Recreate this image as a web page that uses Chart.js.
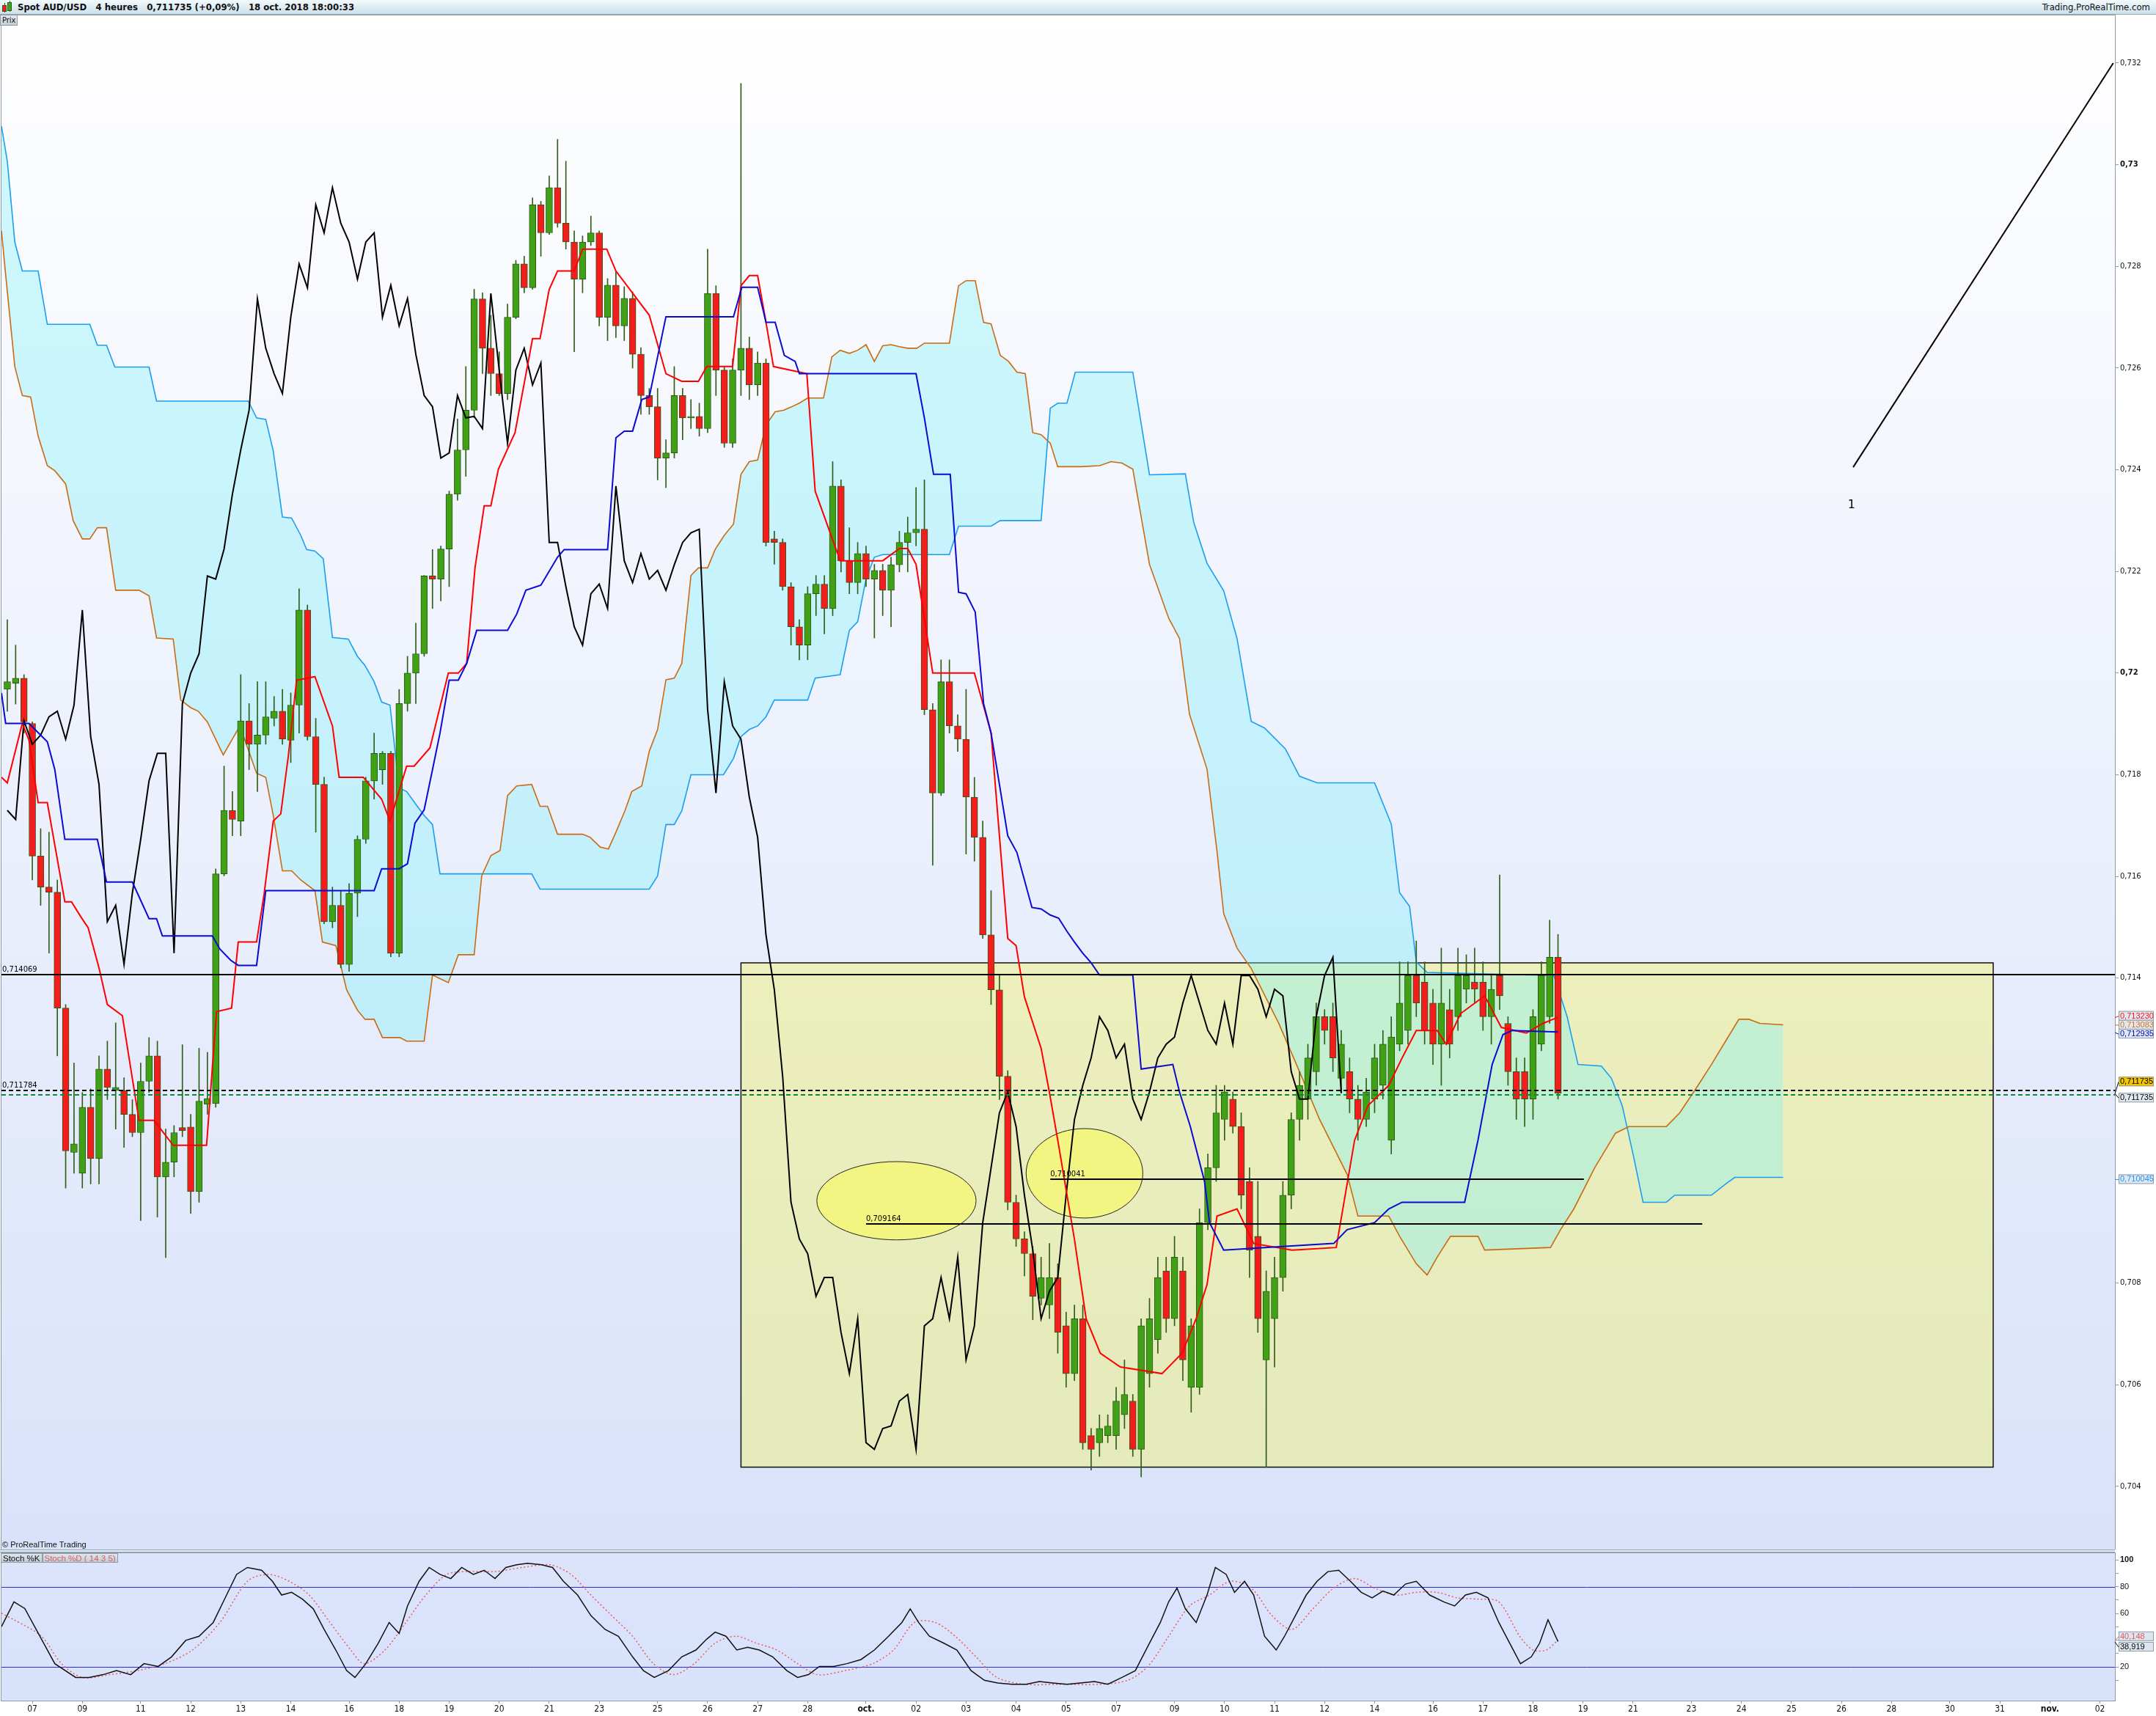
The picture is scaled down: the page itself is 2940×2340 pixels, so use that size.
<!DOCTYPE html>
<html>
<head>
<meta charset="utf-8">
<title>Spot AUD/USD 4 heures</title>
<script src="https://cdn.jsdelivr.net/npm/chart.js@4.4.1/dist/chart.umd.min.js"></script>
<style>
  html, body { margin: 0; padding: 0; background: #fff; }
  body { position: relative; width: 2940px; height: 2340px; overflow: hidden; font-family: 'Liberation Sans', Arial, sans-serif; }
  .abs { position: absolute; }
  #head { left: 0; top: 0; width: 2940px; height: 19px; background: linear-gradient(#f2fafd, #cde0ea); border-bottom: 1px solid #95a6b5; z-index: 2; }
  #head .title { left: 24px; top: 2px; font: bold 13px 'Liberation Sans Narrow', 'DejaVu Sans Condensed', sans-serif; color: #111; white-space: pre; }
  #head .brand { right: 8px; top: 2px; font: 13px 'Liberation Sans Narrow', 'DejaVu Sans Condensed', sans-serif; color: #111; white-space: nowrap; }
  .wick { width: 1px; background: #2c5a14; }
  .body { width: 4px; border: 1px solid #2c5a14; }
  #prix { left: 0; top: 20px; padding: 0 2px; height: 13px; line-height: 13px; font: 11px 'Liberation Sans Narrow', 'DejaVu Sans Condensed', sans-serif; color: #111;
          background: linear-gradient(#e3e9ee, #c4ced7); border: 1px solid #8d9cab; z-index: 2; }
  #main { left: 0; top: 20px; }
  #sep { left: 0; top: 2113px; width: 2884px; height: 2px; border-top: 1px solid #92a3b3; border-bottom: 1px solid #92a3b3; background: #e6ecf8; }
  #stoch { left: 0; top: 2117px; }
  #copy { left: 3px; top: 2100px; font: 11px 'Liberation Sans', Arial, sans-serif; color: #111; z-index: 2; }
  #stochLbl { left: 1px; top: 2118px; height: 13px; line-height: 13px; font: 11.5px 'Liberation Sans', Arial, sans-serif; z-index: 2; display: flex; }
  #stochLbl span { padding: 0 2px; background: linear-gradient(#dfe7ec, #c0ccd5); border: 1px solid #8d9cab; }
</style>
</head>
<body>
<div id="head" class="abs">
  <div class="abs wick" style="left:6px;top:4px;height:13px"></div>
  <div class="abs body" style="left:3px;top:7px;height:7px;background:#f02020"></div>
  <div class="abs wick" style="left:13px;top:1px;height:15px"></div>
  <div class="abs body" style="left:10px;top:3px;height:10px;background:#3fa51a"></div>
  <div class="abs title">Spot AUD/USD   4 heures   0,711735 (+0,09%)   18 oct. 2018 18:00:33</div>
  <div class="abs brand">Trading.ProRealTime.com</div>
</div>
<div id="prix" class="abs">Prix</div>
<canvas id="main" class="abs" width="2940" height="2093"></canvas>
<div id="copy" class="abs">© ProRealTime Trading</div>
<div id="sep" class="abs"></div>
<canvas id="stoch" class="abs" width="2940" height="223"></canvas>
<div id="stochLbl" class="abs"><span style="color:#111">Stoch %K</span><span style="color:#e05a5a">Stoch %D ( 14 3 5)</span></div>

<script>
// 4-hour candles, AUD/USD, 6 Sep - 18 Oct 2018
const opens = [0.71968,0.71980,0.71990,0.71901,0.71640,0.71579,0.71569,0.71341,0.71057,0.71016,
  0.71146,0.71045,0.71221,0.71179,0.71179,0.71132,0.71096,0.71197,0.71247,0.71009,
  0.71038,0.71106,0.71107,0.70980,0.71152,0.71153,0.71605,0.71730,0.71709,0.71906,
  0.71860,0.71878,0.71911,0.71925,0.71868,0.71937,0.72124,0.71875,0.71781,0.71511,
  0.71543,0.71427,0.71567,0.71673,0.71788,0.71810,0.71842,0.71449,0.71940,0.72000,
  0.72038,0.72191,0.72185,0.72244,0.72352,0.72439,0.72517,0.72736,0.72639,0.72589,
  0.72550,0.72700,0.72805,0.72758,0.72921,0.72866,0.72955,0.72885,0.72848,0.72775,
  0.72848,0.72866,0.72700,0.72763,0.72683,0.72737,0.72627,0.72546,0.72524,0.72423,
  0.72433,0.72546,0.72502,0.72505,0.72481,0.72747,0.72596,0.72452,0.72596,0.72639,
  0.72567,0.72610,0.72264,0.72257,0.72170,0.72091,0.72055,0.72156,0.72175,0.72127,
  0.72368,0.72221,0.72178,0.72235,0.72185,0.72202,0.72163,0.72213,0.72257,0.72276,
  0.72283,0.71928,0.71764,0.71983,0.71896,0.71870,0.71756,0.71677,0.71485,0.71377,
  0.71207,0.70959,0.70887,0.70858,0.70770,0.70757,0.70811,0.70716,0.70622,0.70730,
  0.70500,0.70486,0.70500,0.70500,0.70541,0.70568,0.70473,0.70622,0.70689,0.70824,
  0.70730,0.70824,0.70595,0.70595,0.70919,0.71027,0.71122,0.71162,0.71108,0.71000,
  0.70892,0.70649,0.70730,0.70811,0.70973,0.71122,0.71162,0.71216,0.71324,0.71324,
  0.71203,0.71216,0.71162,0.71122,0.71162,0.71189,0.71081,0.71270,0.71297,0.71405,
  0.71392,0.71351,0.71270,0.71338,0.71324,0.71378,0.71392,0.71392,0.71324,0.71405,
  0.71311,0.71216,0.71216,0.71162,0.71270,0.71324,0.71441];
const highs = [0.72105,0.72055,0.71997,0.71904,0.71694,0.71687,0.71593,0.71348,0.71233,0.71175,
  0.71182,0.71247,0.71276,0.71312,0.71204,0.71161,0.71233,0.71283,0.71276,0.71103,
  0.71110,0.71269,0.71132,0.71262,0.71254,0.71615,0.71817,0.71767,0.71997,0.71940,
  0.71983,0.71983,0.71954,0.71968,0.71961,0.72166,0.72134,0.71911,0.71795,0.71579,
  0.71572,0.71586,0.71680,0.71795,0.71882,0.71846,0.71846,0.71968,0.72033,0.72098,
  0.72192,0.72243,0.72250,0.72358,0.72500,0.72603,0.72755,0.72748,0.72704,0.72632,
  0.72726,0.72812,0.72820,0.72935,0.72928,0.72978,0.73050,0.73007,0.72870,0.72860,
  0.72899,0.72870,0.72776,0.72790,0.72760,0.72750,0.72640,0.72560,0.72560,0.72459,
  0.72603,0.72560,0.72538,0.72531,0.72834,0.72762,0.72603,0.72618,0.73160,0.72661,
  0.72632,0.72618,0.72279,0.72264,0.72178,0.72105,0.72170,0.72192,0.72192,0.72416,
  0.72380,0.72286,0.72257,0.72250,0.72214,0.72214,0.72228,0.72279,0.72307,0.72365,
  0.72380,0.71940,0.72026,0.72026,0.71918,0.71968,0.71795,0.71709,0.71572,0.71406,
  0.71218,0.70973,0.70901,0.70872,0.70851,0.70878,0.70838,0.70743,0.70757,0.70757,
  0.70514,0.70541,0.70541,0.70595,0.70649,0.70581,0.70730,0.70770,0.70851,0.70851,
  0.70892,0.70851,0.70730,0.70946,0.71054,0.71189,0.71189,0.71176,0.71135,0.71027,
  0.71000,0.70824,0.70851,0.71000,0.71135,0.71216,0.71270,0.71351,0.71338,0.71351,
  0.71297,0.71243,0.71189,0.71203,0.71270,0.71297,0.71324,0.71432,0.71432,0.71473,
  0.71432,0.71378,0.71459,0.71378,0.71459,0.71446,0.71459,0.71432,0.71405,0.71603,
  0.71324,0.71243,0.71243,0.71338,0.71432,0.71514,0.71486];
const lows = [0.71925,0.71939,0.71882,0.71593,0.71543,0.71449,0.71247,0.70987,0.71016,0.70987,
  0.70995,0.70995,0.71161,0.71103,0.71067,0.71088,0.70923,0.71175,0.70930,0.70850,
  0.71009,0.71088,0.70937,0.70959,0.71132,0.71146,0.71601,0.71680,0.71680,0.71810,
  0.71767,0.71860,0.71896,0.71860,0.71824,0.71882,0.71868,0.71687,0.71507,0.71499,
  0.71420,0.71413,0.71521,0.71665,0.71752,0.71781,0.71442,0.71442,0.71925,0.71940,
  0.72033,0.72127,0.72142,0.72170,0.72340,0.72387,0.72502,0.72589,0.72546,0.72546,
  0.72538,0.72697,0.72748,0.72755,0.72820,0.72863,0.72877,0.72834,0.72632,0.72748,
  0.72841,0.72683,0.72654,0.72660,0.72654,0.72600,0.72509,0.72509,0.72380,0.72365,
  0.72423,0.72459,0.72481,0.72466,0.72473,0.72546,0.72444,0.72444,0.72546,0.72538,
  0.72546,0.72250,0.72214,0.72163,0.72055,0.72026,0.72026,0.72113,0.72077,0.72113,
  0.72199,0.72156,0.72156,0.72170,0.72069,0.72113,0.72091,0.72199,0.72199,0.72250,
  0.71918,0.71622,0.71759,0.71882,0.71846,0.71644,0.71630,0.71478,0.71348,0.71161,
  0.70944,0.70872,0.70814,0.70728,0.70757,0.70730,0.70662,0.70595,0.70608,0.70473,
  0.70432,0.70459,0.70486,0.70473,0.70514,0.70459,0.70419,0.70595,0.70662,0.70703,
  0.70716,0.70608,0.70546,0.70581,0.70905,0.71000,0.71081,0.71095,0.70946,0.70811,
  0.70703,0.70438,0.70635,0.70784,0.70946,0.71081,0.71122,0.71189,0.71270,0.71216,
  0.71176,0.71135,0.71081,0.71108,0.71135,0.71162,0.71054,0.71257,0.71270,0.71324,
  0.71270,0.71230,0.71189,0.71243,0.71297,0.71351,0.71351,0.71297,0.71270,0.71338,
  0.71189,0.71122,0.71108,0.71122,0.71257,0.71311,0.71162];
const closes = [0.71983,0.71990,0.71904,0.71640,0.71579,0.71569,0.71341,0.71060,0.71074,0.71146,
  0.71045,0.71221,0.71185,0.71185,0.71132,0.71096,0.71197,0.71247,0.71009,0.71038,
  0.71096,0.71100,0.70980,0.71158,0.71163,0.71605,0.71730,0.71712,0.71906,0.71860,
  0.71878,0.71914,0.71925,0.71870,0.71937,0.72124,0.71875,0.71781,0.71511,0.71543,
  0.71427,0.71567,0.71673,0.71788,0.71842,0.71842,0.71449,0.71940,0.72000,0.72038,
  0.72191,0.72185,0.72244,0.72352,0.72439,0.72517,0.72736,0.72639,0.72589,0.72550,
  0.72700,0.72805,0.72758,0.72921,0.72866,0.72955,0.72885,0.72848,0.72775,0.72848,
  0.72866,0.72700,0.72763,0.72683,0.72737,0.72627,0.72546,0.72524,0.72423,0.72433,
  0.72546,0.72502,0.72505,0.72481,0.72747,0.72596,0.72452,0.72596,0.72639,0.72567,
  0.72610,0.72257,0.72257,0.72170,0.72091,0.72055,0.72156,0.72175,0.72127,0.72368,
  0.72221,0.72178,0.72235,0.72185,0.72202,0.72163,0.72213,0.72257,0.72276,0.72283,
  0.71928,0.71764,0.71983,0.71896,0.71870,0.71756,0.71677,0.71485,0.71377,0.71207,
  0.70959,0.70887,0.70858,0.70774,0.70811,0.70811,0.70703,0.70622,0.70730,0.70486,
  0.70473,0.70514,0.70519,0.70568,0.70581,0.70473,0.70716,0.70730,0.70811,0.70730,
  0.70851,0.70649,0.70716,0.70919,0.71027,0.71135,0.71176,0.71108,0.70973,0.70865,
  0.70730,0.70784,0.70811,0.70973,0.71122,0.71189,0.71243,0.71324,0.71297,0.71243,
  0.71270,0.71162,0.71122,0.71176,0.71243,0.71270,0.71284,0.71351,0.71405,0.71351,
  0.71297,0.71270,0.71351,0.71270,0.71405,0.71405,0.71378,0.71324,0.71378,0.71365,
  0.71216,0.71162,0.71162,0.71324,0.71405,0.71441,0.711735];

// Ichimoku lines: [candle index, price]
const tenkan = [[-0.7,0.71795],[0,0.71784],[1.8,0.71901],[2.6,0.71868],[3.7,0.71745],[4.8,0.71745],[6.9,0.71550],[7.7,0.71550],
  [8.8,0.71521],[9.7,0.71499],[11,0.71420],[12,0.71348],[13.8,0.71326],[15.8,0.71120],[17.6,0.71120],[19.9,0.71071],[23.9,0.71071],
  [25.1,0.71334],[26.9,0.71341],[27.7,0.71471],[29.9,0.71471],[30.8,0.71565],[31.9,0.71709],[32.8,0.71723],[33.7,0.71836],
  [34.7,0.71986],[36.9,0.71993],[39,0.71896],[39.8,0.71795],[42.7,0.71795],[44.9,0.71752],[45.9,0.71709],[47.9,0.71817],
  [48.8,0.71817],[50.7,0.71853],[52.9,0.72000],[54.1,0.72000],[55.1,0.72019],[56.1,0.72207],[57.2,0.72329],[58,0.72329],
  [58.9,0.72401],[60.9,0.72473],[63,0.72658],[63.9,0.72658],[65,0.72755],[66,0.72791],[68,0.72791],[69,0.72834],[71.9,0.72834],
  [73,0.72791],[77,0.72704],[79,0.72589],[80.9,0.72574],[82.9,0.72574],[83.9,0.72603],[87,0.72603],[88,0.72762],[89,0.72782],
  [90,0.72782],[91,0.72690],[91.9,0.72603],[95.9,0.72589],[96.9,0.72358],[99.9,0.72221],[105,0.72221],[107,0.72245],[108,0.72245],
  [109,0.72214],[111,0.72000],[116,0.72000],[118,0.71882],[120,0.71478],[121,0.71464],[122,0.71363],[124,0.71262],[125,0.71175],
  [126,0.71081],[128,0.70886],[129.4,0.70730],[131.1,0.70662],[133.5,0.70635],[138.5,0.70622],[140.9,0.70662],[142.6,0.70730],
  [143.9,0.70797],[145.1,0.70932],[147.5,0.70946],[149.5,0.70878],[154.1,0.70865],[159.4,0.70870],[161.6,0.71081],[163.2,0.71149],
  [165.7,0.71189],[167.3,0.71243],[169,0.71297],[171.5,0.71297],[172.6,0.71270],[174.3,0.71330],[177.2,0.71365],[179.2,0.71303],
  [182.2,0.71292],[184.2,0.71311],[186,0.71323]];
const kijun = [[-0.7,0.71961],[-0.2,0.71901],[2.6,0.71901],[4.8,0.71865],[5.7,0.71810],[6.9,0.71673],[10.8,0.71673],[11.9,0.71589],
  [15,0.71589],[17,0.71517],[17.9,0.71517],[18.6,0.71483],[24.6,0.71483],[25.5,0.71457],[26.8,0.71435],[27.7,0.71425],[29.9,0.71425],
  [31,0.71572],[44,0.71572],[44.9,0.71615],[47,0.71615],[48,0.71625],[48.9,0.71705],[50,0.71731],[51,0.71810],[51.9,0.71882],
  [53,0.71986],[54.1,0.71986],[55.1,0.72019],[56.3,0.72084],[60,0.72084],[61.1,0.72116],[62.2,0.72163],[64,0.72173],[66,0.72228],
  [66.8,0.72243],[72,0.72243],[73,0.72463],[74,0.72476],[75,0.72476],[76.1,0.72538],[77,0.72543],[79,0.72701],[87.1,0.72701],
  [88.1,0.72759],[90,0.72759],[91,0.72690],[92.1,0.72690],[93.2,0.72625],[94.5,0.72613],[95,0.72589],[109,0.72589],[110,0.72502],
  [111.1,0.72391],[113.1,0.72391],[114.1,0.72159],[115,0.72156],[116.1,0.72120],[117.1,0.71940],[118,0.71882],[120,0.71680],
  [121.1,0.71647],[122.9,0.71539],[124,0.71536],[125.1,0.71524],[126.1,0.71518],[127.1,0.71492],[128,0.71471],[129,0.71449],
  [130,0.71430],[131,0.71406],[135,0.71406],[136,0.71221],[139.8,0.71230],[140.6,0.71176],[141.9,0.71108],[143.6,0.71000],
  [144.2,0.70919],[145.9,0.70865],[150.8,0.70870],[159.1,0.70878],[160.7,0.70905],[164,0.70919],[165.7,0.70946],[167.3,0.70959],
  [174.8,0.70959],[176.4,0.71081],[178.1,0.71230],[179.4,0.71289],[180.5,0.71297],[186,0.71294]];
const senkouA = [[-0.7,0.72870],[-0.2,0.72784],[0.9,0.72603],[1.8,0.72546],[2.8,0.72543],[3.7,0.72466],[4.8,0.72408],[5.7,0.72398],
  [7,0.72372],[7.9,0.72300],[9,0.72264],[9.9,0.72264],[10.8,0.72286],[11.9,0.72286],[13,0.72163],[15.8,0.72163],[17,0.72152],
  [17.9,0.72069],[19.9,0.72067],[20.8,0.71947],[22,0.71932],[22.9,0.71925],[24,0.71904],[25.9,0.71839],[27.9,0.71896],[29.9,0.71803],
  [31,0.71795],[31.9,0.71720],[33,0.71611],[34.1,0.71611],[35.2,0.71593],[36.9,0.71572],[37.8,0.71471],[39.4,0.71464],[40.7,0.71377],
  [42,0.71337],[42.9,0.71319],[44,0.71319],[45,0.71283],[47.1,0.71283],[47.9,0.71276],[50,0.71276],[51,0.71406],[51.9,0.71399],
  [52.9,0.71391],[54.1,0.71446],[56,0.71446],[56.9,0.71601],[58,0.71641],[59.1,0.71651],[60,0.71759],[61.1,0.71778],[62.9,0.71781],
  [63.9,0.71738],[64.8,0.71738],[66,0.71683],[69,0.71683],[69.9,0.71677],[71.1,0.71658],[72.1,0.71654],[73,0.71687],[74.1,0.71730],
  [74.9,0.71767],[76.1,0.71778],[77,0.71846],[78,0.71889],[79,0.71987],[80,0.71990],[80.9,0.72019],[82,0.72192],[82.9,0.72207],
  [84,0.72207],[84.9,0.72243],[86,0.72271],[87.1,0.72293],[88,0.72391],[89,0.72416],[90,0.72419],[91,0.72488],[92.1,0.72514],
  [93.1,0.72517],[94.1,0.72524],[95,0.72531],[96,0.72541],[97.9,0.72541],[98.9,0.72622],[99.9,0.72635],[101,0.72629],[102,0.72635],
  [103,0.72646],[104,0.72613],[105,0.72644],[106,0.72646],[107,0.72642],[108,0.72639],[109.1,0.72639],[110,0.72649],[113,0.72649],
  [114.1,0.72762],[115,0.72772],[116.1,0.72772],[117.1,0.72690],[118,0.72687],[119.1,0.72625],[120.1,0.72613],[121.1,0.72592],
  [122.1,0.72589],[123,0.72473],[124,0.72469],[125.1,0.72452],[126,0.72406],[128.8,0.72406],[131,0.72408],[132.4,0.72416],
  [133.7,0.72413],[135,0.72401],[137,0.72214],[139.3,0.72108],[140.6,0.72068],[141.8,0.71919],[143.9,0.71811],[145.1,0.71649],
  [145.9,0.71527],[147.5,0.71459],[149.2,0.71419],[152.5,0.71311],[155,0.71216],[157.4,0.71122],[160.7,0.71014],[162,0.70932],
  [165.7,0.70932],[167,0.70892],[169,0.70838],[170.3,0.70816],[171.5,0.70851],[173.1,0.70892],[176.4,0.70892],[177.2,0.70865],
  [185.1,0.70870],[186.3,0.70905],[187.9,0.70946],[190.4,0.71027],[192.9,0.71095],[194.5,0.71108],[199,0.71108],[200.6,0.71135],
  [202.8,0.71189],[204.4,0.71230],[206.1,0.71276],[207.7,0.71319],[208.9,0.71319],[210.2,0.71311],[213,0.71308]];
const senkouB = [[-0.7,0.73076],[0,0.73007],[0.9,0.72848],[1.8,0.72791],[3.7,0.72791],[4.8,0.72686],[9.9,0.72686],[10.8,0.72645],
  [11.9,0.72645],[12.9,0.72602],[17,0.72602],[17.9,0.72535],[28.9,0.72535],[29.9,0.72502],[31,0.72499],[31.9,0.72437],[33,0.72307],
  [34.1,0.72305],[35.2,0.72271],[35.9,0.72243],[36.9,0.72240],[37.9,0.72225],[39,0.72070],[40.9,0.72067],[42,0.72033],[42.9,0.72015],
  [44,0.71983],[44.9,0.71943],[45.9,0.71937],[47,0.71774],[47.9,0.71767],[49,0.71742],[50,0.71720],[51,0.71702],[51.9,0.71605],
  [62.9,0.71605],[63.9,0.71575],[77,0.71575],[78,0.71601],[79,0.71702],[80,0.71702],[80.9,0.71729],[82,0.71800],[85.9,0.71800],
  [87.1,0.71832],[88,0.71875],[89,0.71889],[90,0.71896],[91,0.71914],[92,0.71947],[96,0.71947],[96.9,0.71990],[99.9,0.71997],
  [101,0.72084],[102,0.72101],[103,0.72185],[104,0.72228],[105,0.72233],[113,0.72233],[114.1,0.72289],[118,0.72289],[119.1,0.72300],
  [124,0.72300],[125.1,0.72521],[126,0.72531],[127.1,0.72531],[128.1,0.72592],[135,0.72592],[137,0.72390],[141.3,0.72392],
  [142.3,0.72297],[143.9,0.72216],[145.9,0.72162],[147.5,0.72068],[149.2,0.71905],[150.8,0.71892],[153.3,0.71851],[155,0.71797],
  [157.1,0.71784],[164,0.71784],[166,0.71703],[167,0.71568],[168.2,0.71541],[169,0.71432],[170.3,0.71411],[185.5,0.71405],
  [187.1,0.71324],[188.4,0.71230],[191.2,0.71227],[192.4,0.71203],[193.7,0.71149],[195,0.71054],[196.2,0.70959],[199,0.70959],
  [200,0.70973],[204.4,0.70973],[206.1,0.70995],[207.2,0.71008],[213,0.71008]];
const chikouShift = 26;

// Stochastic (14 3 5): [candle index, value]
const stochK = [[-0.7,50],[0.8,68.6],[2.1,63.6],[5.7,22.4],[8.2,12.1],[9.8,12.1],[11.5,14.2],[13.1,17.2],[14.8,14.2],[16.4,22.4],
  [18.1,20.3],[19.7,27.5],[21.4,39.8],[23,42.9],[24.7,53.2],[26.3,73.7],[27.5,89.1],[28.8,94.3],[30.5,92.2],[31.8,84],[32.9,73.7],
  [34.1,75.7],[35.4,70.6],[36.7,63.4],[38,48],[39.4,32.6],[40.7,17.2],[41.7,12.1],[43,22.4],[44.5,37.8],[45.8,53.2],[47,45],
  [48,65.5],[49.4,84],[50.6,94.3],[51.9,89.1],[53.2,86],[54.5,94.3],[55.9,89.1],[57.2,92.2],[58.5,86],[59.8,94.3],[61.1,96.3],
  [62.4,97.4],[64.1,96.3],[65.4,94.3],[66.7,84],[68.4,73.7],[70,58.3],[71.7,48],[73.3,42.9],[75,27.5],[76.3,17.2],[77.6,12.1],
  [79.3,17.2],[80.9,27.5],[82.6,32.6],[83.9,40.8],[84.9,46],[86.2,42.9],[87.5,32.6],[88.8,34.7],[90.2,32.6],[91.8,27.5],[93.5,17.2],
  [94.8,12.1],[96.1,14.2],[97.4,20.3],[99.1,20.3],[100.7,22.4],[102.4,25.5],[104,32.6],[105.7,42.9],[107.3,53.2],[108.3,63.4],
  [109.3,53.2],[110.6,42.9],[112.3,37.8],[113.9,32.6],[115.6,17.2],[117.2,10],[118.8,8],[120.5,7],[122.2,7],[123.8,9],[125.4,8],
  [127.1,7],[128.7,8],[130.4,9],[132,7],[133.7,12.1],[135.3,17.2],[137,37.8],[138.3,53.2],[139.3,68.6],[140.3,78.9],[141.3,63.4],
  [142.6,53.2],[143.9,73.7],[144.9,94.3],[146.2,89.1],[147.2,75.7],[148.4,84],[149.5,73.7],[150.8,42.9],[152.2,32.6],[153.2,42.9],
  [154.5,58.3],[155.8,73.7],[157.1,84],[158.4,91.2],[159.7,92.2],[161.1,84],[162.4,75.7],[163.7,71.6],[165,76.7],[166.3,73.7],
  [167.7,81.9],[169,84],[170.6,73.7],[172.3,68.6],[173.6,65.5],[174.9,73.7],[176.2,75.7],[177.6,71.6],[178.9,53.2],[180.2,37.8],
  [181.5,22.4],[182.8,27.5],[183.8,37.8],[184.8,55.2],[186,38.919]];
const stochD = [[-0.7,60],[0.8,55.2],[4.1,42.9],[6.5,22.4],[9,12.1],[12.3,14.2],[15.6,17.2],[18.9,22.4],[22.2,32.6],[25.5,53.2],
  [28.8,84],[31.3,89.1],[33.8,84],[36.2,73.7],[38.7,53.2],[41.2,32.6],[42.8,22.4],[45.3,32.6],[47.8,53.2],[50.2,73.7],[52.7,89.1],
  [55.2,91.2],[58.5,91.2],[61.8,94.3],[65.1,96.3],[67.6,89.1],[70,73.7],[72.5,58.3],[75,42.9],[77.5,22.4],[79.9,14.2],[82.4,22.4],
  [84.9,37.8],[87.4,42.9],[89.8,37.8],[92.3,32.6],[94.8,22.4],[97.2,14.2],[100.5,17.2],[103.8,22.4],[106.3,32.6],[108.8,53.2],
  [111.3,53.2],[113.7,42.9],[116.2,27.5],[118.7,12.1],[122,7],[126.1,7],[131.1,7],[134.4,10],[136.8,20.3],[139.3,42.9],[141.8,65.5],
  [144.2,73.7],[146.7,84],[149.2,78.9],[151.7,58.3],[154.1,48],[156.6,63.4],[159.1,78.9],[161.6,86],[164,78.9],[166.5,73.7],
  [169,75.7],[171.5,75.7],[173.9,71.6],[176.4,70.6],[178.9,68.6],[181.4,42.9],[183,32.6],[184.6,32.6],[186,40.148]];

// axes
const dateTicks = [3,9,16,22,28,34,41,47,53,59,65,71,78,84,90,96,103,109,115,121,127,
  133,140,146,152,158,164,171,177,183,189,195,202,208,214,220,226,233,239,245,251];
const dateLabels = ['07','09','11','12','13','14','16','18','19','20','21','23','25','26','27','28','oct.','02','03','04','05',
  '07','09','10','11','12','14','16','17','18','19','21','23','24','25','26','28','30','31','nov.','02'];
const priceTicks = [0.704,0.706,0.708,0.714,0.716,0.718,0.72,0.722,0.724,0.726,0.728,0.73,0.732];
const stochTicks = [10,20,30,40,50,60,70,80,90,100];
const stochLabelled = [20,60,80,100];
const stochLevels = [20,80];

// drawings on the price panel
const lastPrice = 0.711735;
const prevPrice = 0.711784;
const resistance = 0.714069;
const zoneBox = [88, 238.2, 0.70438, 0.7143];
const zoneEllipses = [[97.1, 116.2, 0.70885, 0.71039], [122.2, 136.2, 0.70928, 0.71104]];
const levelSegments = [[103.0, 203.3, 0.709164], [125.1, 189.1, 0.710041]];
const trendLine = [[221.4, 0.72405], [252.6, 0.732]];
const waveLabel = [221.2, 0.7233, '1'];
const priceTags = [
  { v: 0.713230, color: '#ff1010', bg: '#e1e8ef', dy: -2 },
  { v: 0.713083, color: '#d2731c', bg: '#e1e8ef', dy: 0 },
  { v: 0.712935, color: '#0000c0', bg: '#e1e8ef', dy: 2 },
  { v: 0.711735, color: '#000', bg: '#f4c400', dy: -16 },
  { v: 0.711735, color: '#000', bg: '#e1e8ef', dy: 6 },
  { v: 0.710045, color: '#1e90ff', bg: '#e1e8ef', dy: 0 },
];
const stochTags = [
  { v: 40.148, color: '#e05a5a', bg: '#dde5f0', dy: -5 },
  { v: 38.919, color: '#000', bg: '#dde5f0', dy: 7 },
];

const xMin = -0.7, xMax = 252.8;
const pts = arr => arr.map(([x, y]) => ({ x, y }));
const idx = closes.map((_, i) => i);
const comma = s => s.replace('.', ',');

function drawTag(ctx, area, yPix, t, text, font) {
  const left = area.right + 5;
  ctx.save();
  ctx.strokeStyle = t.color;
  ctx.lineWidth = 1;
  ctx.beginPath(); ctx.moveTo(area.right, yPix - t.dy + 0.5); ctx.lineTo(left, yPix + 0.5); ctx.stroke();
  ctx.fillStyle = t.bg;
  ctx.fillRect(left, yPix - 6.5, 48, 13);
  ctx.strokeStyle = '#8d9cab';
  ctx.strokeRect(left + 0.5, yPix - 6, 47, 12);
  ctx.fillStyle = t.color;
  ctx.font = font;
  ctx.textBaseline = 'middle';
  ctx.fillText(text, left + 2, yPix + 0.5);
  ctx.restore();
}

const panelBg = {
  id: 'panelBg',
  beforeDraw(chart, args, o) {
    const { ctx, chartArea: a } = chart;
    ctx.save();
    const g = ctx.createLinearGradient(0, a.top, 0, a.bottom);
    g.addColorStop(0, o.top);
    g.addColorStop(1, o.bottom);
    ctx.fillStyle = g;
    ctx.fillRect(a.left, a.top, a.width, a.height);
    ctx.strokeStyle = '#8d9cab';
    ctx.lineWidth = 1;
    ctx.strokeRect(a.left - 0.5, a.top + 0.5, a.width + 1, a.height);
    ctx.restore();
  }
};

const priceDrawings = {
  id: 'priceDrawings',
  beforeDatasetsDraw(chart) {
    const { ctx, chartArea: a, scales: { x, y } } = chart;
    ctx.save();
    ctx.beginPath(); ctx.rect(a.left, a.top, a.width, a.height); ctx.clip();
    const bx1 = x.getPixelForValue(zoneBox[0]), bx2 = x.getPixelForValue(zoneBox[1]);
    const by1 = y.getPixelForValue(zoneBox[3]), by2 = y.getPixelForValue(zoneBox[2]);
    ctx.fillStyle = 'rgba(243,243,100,0.42)';
    ctx.fillRect(bx1, by1, bx2 - bx1, by2 - by1);
    ctx.strokeStyle = '#111';
    ctx.lineWidth = 1.5;
    ctx.strokeRect(bx1, by1, bx2 - bx1, by2 - by1);
    zoneEllipses.forEach(([i1, i2, p1, p2]) => {
      const x1 = x.getPixelForValue(i1), x2 = x.getPixelForValue(i2);
      const y1 = y.getPixelForValue(p2), y2 = y.getPixelForValue(p1);
      ctx.beginPath();
      ctx.ellipse((x1 + x2) / 2, (y1 + y2) / 2, (x2 - x1) / 2, (y2 - y1) / 2, 0, 0, Math.PI * 2);
      ctx.fillStyle = '#f3f582';
      ctx.fill();
      ctx.strokeStyle = '#222';
      ctx.lineWidth = 1;
      ctx.stroke();
    });
    ctx.restore();
  },
  afterDatasetsDraw(chart) {
    const { ctx, chartArea: a, scales: { x, y } } = chart;
    ctx.save();
    ctx.beginPath(); ctx.rect(a.left, a.top, a.width, a.height); ctx.clip();
    ctx.font = '10px "DejaVu Sans", sans-serif';
    ctx.fillStyle = '#000';
    ctx.textBaseline = 'bottom';
    // resistance line across the panel
    let yy = Math.round(y.getPixelForValue(resistance));
    ctx.strokeStyle = '#000'; ctx.lineWidth = 2;
    ctx.beginPath(); ctx.moveTo(a.left, yy); ctx.lineTo(a.right, yy); ctx.stroke();
    ctx.fillText(comma(resistance.toFixed(6)), a.left + 1, yy - 2);
    // previous / last price dashed lines
    ctx.setLineDash([6, 4]);
    yy = Math.round(y.getPixelForValue(prevPrice));
    ctx.strokeStyle = '#000';
    ctx.beginPath(); ctx.moveTo(a.left, yy); ctx.lineTo(a.right, yy); ctx.stroke();
    ctx.fillText(comma(prevPrice.toFixed(6)), a.left + 1, yy - 2);
    yy = Math.round(y.getPixelForValue(lastPrice)) + 2;
    ctx.strokeStyle = '#0b8a3a';
    ctx.beginPath(); ctx.moveTo(a.left, yy); ctx.lineTo(a.right, yy); ctx.stroke();
    ctx.setLineDash([]);
    // horizontal level segments
    levelSegments.forEach(([i1, i2, p]) => {
      const x1 = x.getPixelForValue(i1), x2 = x.getPixelForValue(i2), ly = Math.round(y.getPixelForValue(p));
      ctx.strokeStyle = '#000'; ctx.lineWidth = 2;
      ctx.beginPath(); ctx.moveTo(x1, ly); ctx.lineTo(x2, ly); ctx.stroke();
      ctx.fillText(comma(p.toFixed(6)), x1, ly - 2);
    });
    // trend line and wave label
    ctx.lineWidth = 2;
    ctx.beginPath();
    ctx.moveTo(x.getPixelForValue(trendLine[0][0]), y.getPixelForValue(trendLine[0][1]));
    ctx.lineTo(x.getPixelForValue(trendLine[1][0]), y.getPixelForValue(trendLine[1][1]));
    ctx.stroke();
    ctx.font = '16px "DejaVu Sans", sans-serif';
    ctx.textAlign = 'center';
    ctx.textBaseline = 'middle';
    ctx.fillText(waveLabel[2], x.getPixelForValue(waveLabel[0]), y.getPixelForValue(waveLabel[1]));
    ctx.restore();
  },
  afterDraw(chart) {
    const { ctx, chartArea: a, scales: { y } } = chart;
    priceTags.forEach(t => {
      drawTag(ctx, a, y.getPixelForValue(t.v) + t.dy, t, comma(t.v.toFixed(6)), '11px "Liberation Sans", Arial, sans-serif');
    });
  }
};

const stochDrawings = {
  id: 'stochDrawings',
  beforeDatasetsDraw(chart) {
    const { ctx, chartArea: a, scales: { y } } = chart;
    ctx.save();
    ctx.strokeStyle = '#2b2bd8';
    ctx.lineWidth = 1;
    stochLevels.forEach(v => {
      const yy = Math.round(y.getPixelForValue(v)) + 0.5;
      ctx.beginPath(); ctx.moveTo(a.left, yy); ctx.lineTo(a.right, yy); ctx.stroke();
    });
    ctx.restore();
  },
  afterDraw(chart) {
    const { ctx, chartArea: a, scales: { y } } = chart;
    stochTags.forEach(t => {
      drawTag(ctx, a, y.getPixelForValue(t.v) + t.dy, t, comma(t.v.toFixed(3)), '11px "Liberation Sans", Arial, sans-serif');
    });
  }
};

const cloudFill = 'rgba(125,242,250,0.36)';

new Chart(document.getElementById('main'), {
  type: 'bar',
  data: {
    datasets: [
      { type: 'line', label: 'Senkou A', data: pts(senkouA), borderColor: '#cc6a12', borderWidth: 1.6,
        pointRadius: 0, fill: false, order: 6 },
      { type: 'line', label: 'Senkou B', data: pts(senkouB), borderColor: '#1a9ef0', borderWidth: 1.6,
        pointRadius: 0, fill: { target: 0, above: cloudFill, below: cloudFill }, order: 6 },
      { label: 'wicks', data: idx.map(i => ({ x: i, y: [lows[i], highs[i]] })), backgroundColor: '#2f5e17',
        barThickness: 1, grouped: false, order: 5 },
      { label: 'bodies', data: idx.map(i => ({ x: i, y: [opens[i], closes[i]] })),
        backgroundColor: idx.map(i => closes[i] >= opens[i] ? '#40a016' : '#f41c1c'),
        borderColor: '#2c5a14', borderWidth: 1, borderSkipped: false, barThickness: 9, grouped: false, order: 4 },
      { type: 'line', label: 'Chikou', data: closes.slice(chikouShift).map((c, i) => ({ x: i, y: c })),
        borderColor: '#000', borderWidth: 2, pointRadius: 0, order: 2 },
      { type: 'line', label: 'Kijun', data: pts(kijun), borderColor: '#0a0ad2', borderWidth: 2, pointRadius: 0, order: 1 },
      { type: 'line', label: 'Tenkan', data: pts(tenkan), borderColor: '#ff0000', borderWidth: 2, pointRadius: 0, order: 1 },
    ]
  },
  options: {
    responsive: false,
    animation: false,
    devicePixelRatio: 1,
    layout: { padding: { left: 2, top: 0, right: 0, bottom: 0 } },
    plugins: { legend: { display: false }, tooltip: { enabled: false }, panelBg: { top: '#ffffff', bottom: '#d9e2fa' } },
    scales: {
      x: { type: 'linear', min: xMin, max: xMax, display: false, offset: false, bounds: 'data' },
      y: {
        type: 'linear', position: 'right', min: 0.702759, max: 0.732952, bounds: 'data', beginAtZero: false,
        afterBuildTicks: s => { s.ticks = priceTicks.map(value => ({ value })); },
        afterFit: s => { s.width = 56; s.paddingTop = 0; s.paddingBottom = 0; },
        ticks: {
          padding: 2, color: '#111',
          callback: v => comma(Math.abs(v * 100 - Math.round(v * 100)) < 1e-9 ? v.toFixed(2) : v.toFixed(3)),
          font: c => ({ family: '"DejaVu Sans", sans-serif', size: 10,
            weight: c.tick && Math.abs(c.tick.value * 100 - Math.round(c.tick.value * 100)) < 1e-9 ? 'bold' : 'normal' })
        },
        grid: { drawOnChartArea: false, tickLength: 5, color: '#8d9cab' },
        border: { color: '#8d9cab' }
      }
    }
  },
  plugins: [panelBg, priceDrawings]
});

new Chart(document.getElementById('stoch'), {
  type: 'line',
  data: {
    datasets: [
      { label: 'Stoch %K', data: pts(stochK), borderColor: '#111', borderWidth: 1.5, pointRadius: 0 },
      { label: 'Stoch %D', data: pts(stochD), borderColor: '#ee5a5a', borderWidth: 1.5, borderDash: [2, 3],
        pointRadius: 0, tension: 0.3 },
    ]
  },
  options: {
    responsive: false,
    animation: false,
    devicePixelRatio: 1,
    layout: { padding: { left: 2, top: 0, right: 0, bottom: 0 } },
    plugins: { legend: { display: false }, tooltip: { enabled: false }, panelBg: { top: '#dbe4fb', bottom: '#d8e2fb' } },
    scales: {
      x: {
        type: 'linear', min: xMin, max: xMax, bounds: 'data',
        afterBuildTicks: s => { s.ticks = dateTicks.map(value => ({ value })); },
        afterFit: s => { s.height = 21; s.paddingLeft = 0; s.paddingRight = 0; },
        ticks: {
          autoSkip: false, maxRotation: 0, minRotation: 0, padding: 1, color: '#111',
          callback: (v, i) => dateLabels[i],
          font: c => ({ family: '"Liberation Sans Narrow", "DejaVu Sans Condensed", sans-serif', size: 12,
            weight: /\./.test(dateLabels[c.index] || '') ? 'bold' : 'normal' })
        },
        grid: { drawOnChartArea: false, tickLength: 4, color: '#8d9cab' },
        border: { color: '#8d9cab' }
      },
      y: {
        type: 'linear', position: 'right', min: -5.2, max: 105.5, bounds: 'data',
        afterBuildTicks: s => { s.ticks = stochTicks.map(value => ({ value })); },
        afterFit: s => { s.width = 56; s.paddingTop = 0; s.paddingBottom = 0; },
        ticks: {
          padding: 2, color: '#111',
          callback: v => stochLabelled.includes(v) ? String(v) : '',
          font: c => ({ family: '"Liberation Sans", Arial, sans-serif', size: 11,
            weight: c.tick && c.tick.value === 100 ? 'bold' : 'normal' })
        },
        grid: { drawOnChartArea: false, tickLength: 5, color: '#8d9cab' },
        border: { color: '#8d9cab' }
      }
    }
  },
  plugins: [panelBg, stochDrawings]
});
</script>
</body>
</html>
